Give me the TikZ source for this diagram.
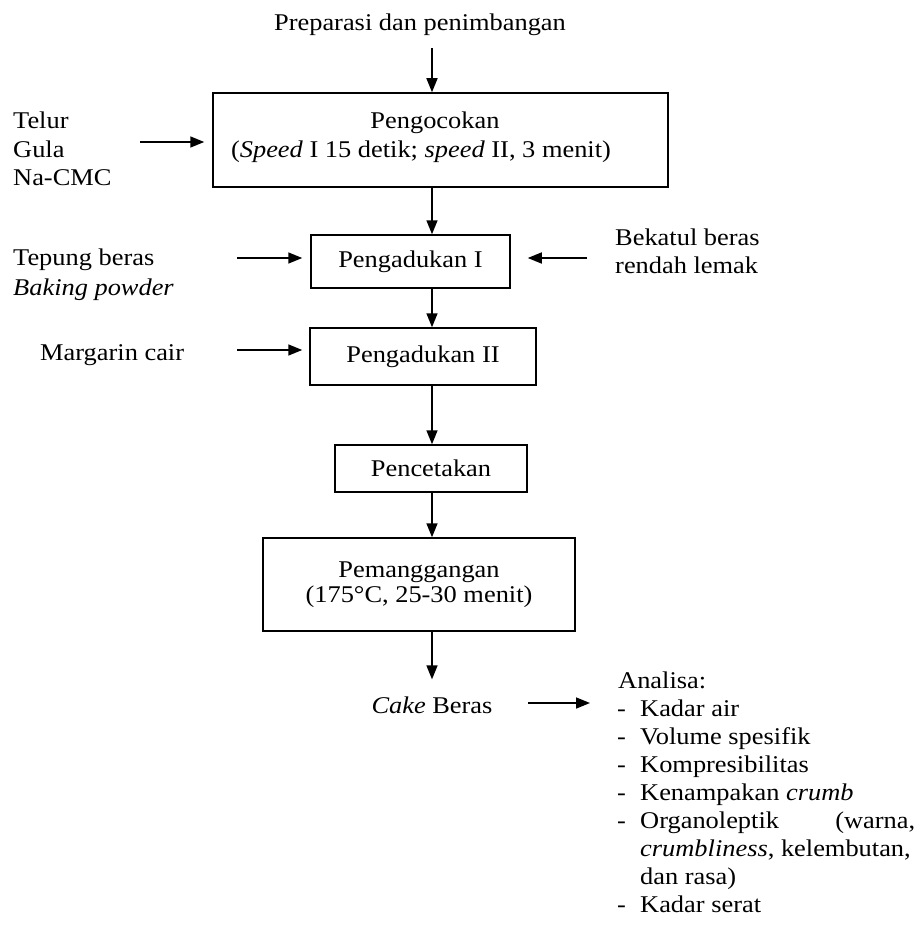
\documentclass[tikz,border=0pt]{standalone}
\usepackage{fontspec}
\setmainfont{Liberation Serif}[FakeStretch=1.1]
\usetikzlibrary{arrows.meta}
\begin{document}
\begin{tikzpicture}[x=1pt,y=-1pt,
  every node/.style={font=\fontsize{24}{28}\selectfont, inner sep=0pt},
  proc/.style={draw, line width=1.5pt, minimum width=#1},
  lbl/.style={anchor=west, align=left},
  item/.style={anchor=base west},
  arr/.style={-{Triangle[length=14pt,width=11pt]}, line width=1.6pt}]
\useasboundingbox (0,0) rectangle (919,931);
\coordinate (spine) at (432,0);

% main flow
\node (t0) at (420,25) {Preparasi dan penimbangan};
\node[proc=455pt, minimum height=94pt] (b1) at (440.5,140) {};
\node (b1a) at (435,123) {Pengocokan};
\node (b1b) at (421,152) {(\textit{Speed} I 15 detik; \textit{speed} II, 3 menit)};
\node[proc=199pt, minimum height=53pt] (b2) at (410.5,261.5) {Pengadukan I};
\node[proc=226pt, minimum height=57pt] (b3) at (423,356.5) {Pengadukan II};
\node[proc=192pt, minimum height=47pt] (b4) at (431,468.5) {Pencetakan};
\node[proc=312pt, minimum height=93pt, align=center, font=\fontsize{24}{25.5}\selectfont] (b5) at (419,584.5)
  {Pemanggangan\\(175°C, 25-30 menit)};
\node (cake) at (432,705) {\textit{Cake} Beras};

% inputs
\node[lbl, font=\fontsize{24}{28.5}\selectfont] (in1) at (13,149) {Telur\\Gula\\Na-CMC};
\node[lbl, font=\fontsize{24}{30}\selectfont] (in2) at (13,275) {Tepung beras\\\textit{Baking powder}};
\node[lbl] (in3) at (615,251) {Bekatul beras\\rendah lemak};
\node[lbl] (in4) at (40,355) {Margarin cair};

% analysis list
\node[item] (an0) at (618,688.5) {Analisa:};
\node[item] (an1) at (617,716.5) {\makebox[23pt][l]{-}Kadar air};
\node[item] (an2) at (617,744.5) {\makebox[23pt][l]{-}Volume spesifik};
\node[item] (an3) at (617,772.5) {\makebox[23pt][l]{-}Kompresibilitas};
\node[item] (an4) at (617,800.5) {\makebox[23pt][l]{-}Kenampakan \textit{crumb}};
\node[item] (an5) at (617,828.5) {\makebox[23pt][l]{-}\makebox[275pt][s]{Organoleptik\hfill(warna,}};
\node[item] (an6) at (640,856.5) {\textit{crumbliness}, kelembutan,};
\node[item] (an7) at (640,884.5) {dan rasa)};
\node[item] (an8) at (617,912) {\makebox[23pt][l]{-}Kadar serat};

% vertical connectors
\draw[arr, shorten <=12pt] (t0.south -| spine) -- (b1.north -| spine);
\draw[arr] (b1.south -| spine) -- (b2.north -| spine);
\draw[arr] (b2.south -| spine) -- (b3.north -| spine);
\draw[arr] (b3.south -| spine) -- (b4.north -| spine);
\draw[arr] (b4.south -| spine) -- (b5.north -| spine);
\draw[arr, shorten >=17pt] (b5.south -| spine) -- (cake.north -| spine);

% horizontal connectors
\coordinate (h1) at (140,142);
\coordinate (h2) at (237,258);
\coordinate (h3) at (587,258);
\coordinate (h4) at (237,350);
\coordinate (h5) at (528,703);
\draw[arr, shorten >=8pt] (h1) -- (h1 -| b1.west);
\draw[arr, shorten >=8pt] (h2) -- (h2 -| b2.west);
\draw[arr, shorten >=17pt] (h3) -- (h3 -| b2.east);
\draw[arr, shorten >=7pt] (h4) -- (h4 -| b3.west);
\draw[arr, shorten >=27pt] (h5) -- (h5 -| an1.west);
\end{tikzpicture}
\end{document}
